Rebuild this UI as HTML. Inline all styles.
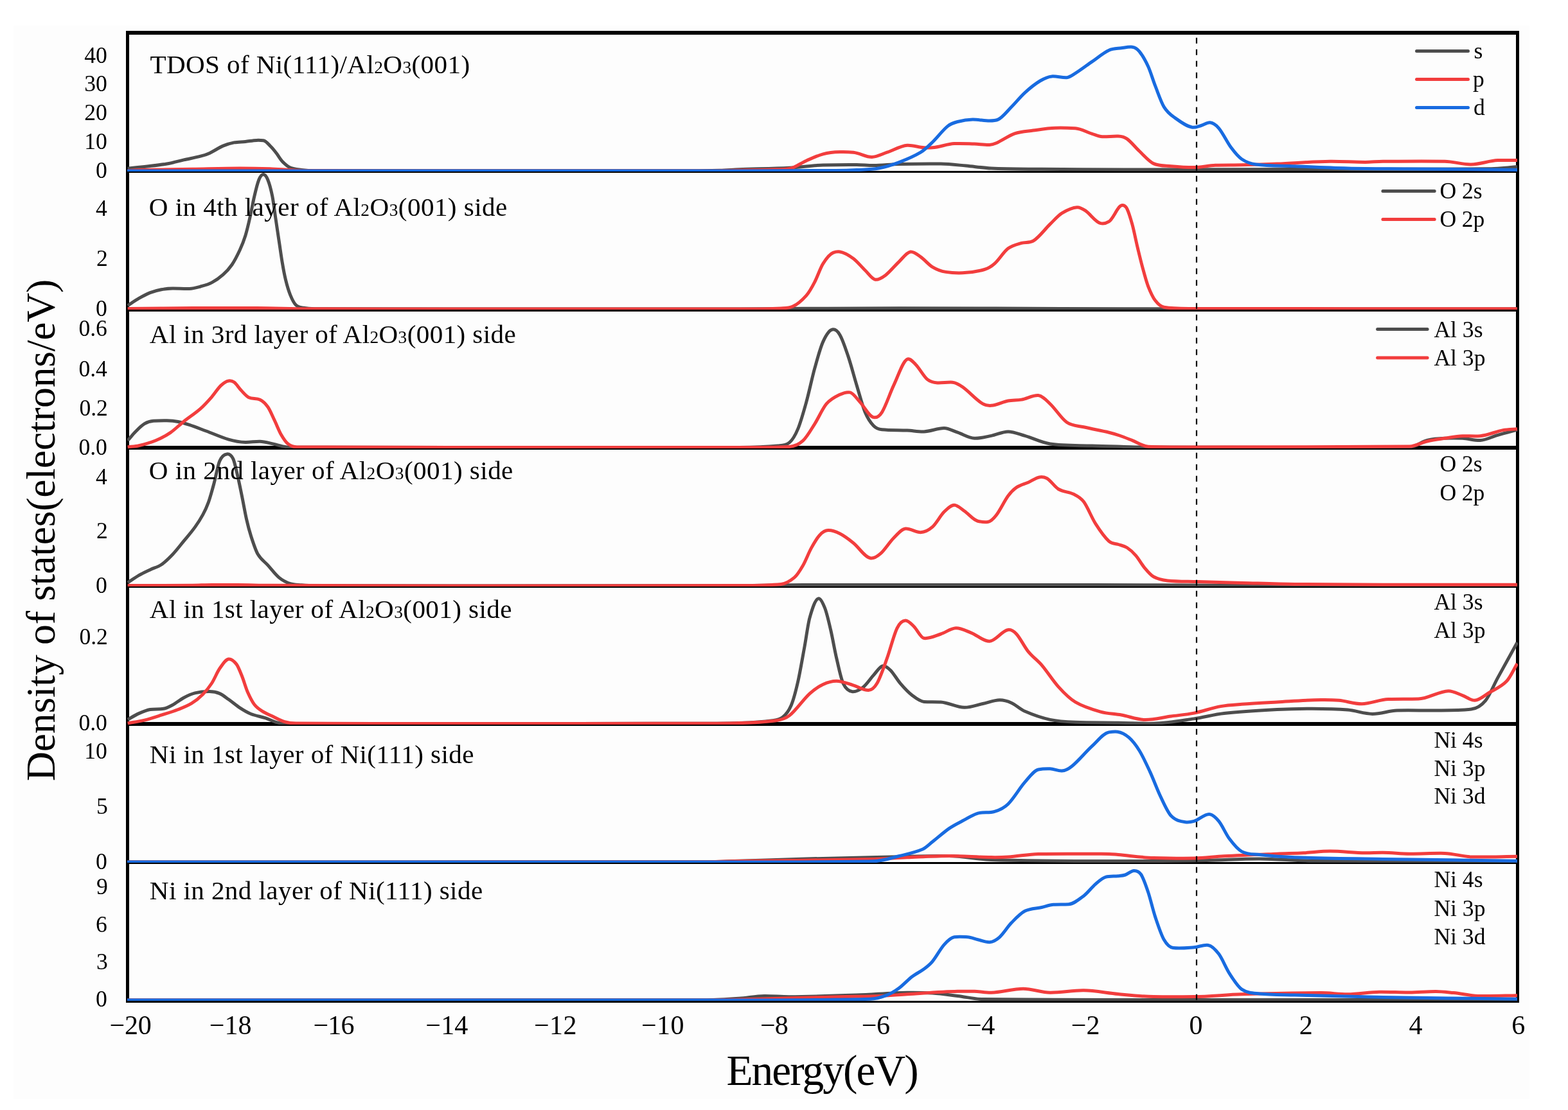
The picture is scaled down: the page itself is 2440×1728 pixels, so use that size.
<!DOCTYPE html>
<html><head><meta charset="utf-8"><title>DOS</title>
<style>
html,body{margin:0;padding:0;background:#ffffff;}
svg{display:block;}
text{font-family:"Liberation Serif","Times New Roman",serif;fill:#000;}
</style></head><body>
<svg width="2440" height="1728" viewBox="0 0 2440 1728">
<rect x="0" y="0" width="2440" height="1728" fill="#ffffff"/>
<rect x="21" y="40" width="2359" height="1671" fill="#fdfdfd"/>
<defs>
<clipPath id="c0"><rect x="198" y="52" width="2164" height="215"/></clipPath>
<clipPath id="c1"><rect x="198" y="267" width="2164" height="215"/></clipPath>
<clipPath id="c2"><rect x="198" y="483" width="2164" height="215"/></clipPath>
<clipPath id="c3"><rect x="198" y="698" width="2164" height="215"/></clipPath>
<clipPath id="c4"><rect x="198" y="913" width="2164" height="215"/></clipPath>
<clipPath id="c5"><rect x="198" y="1128" width="2164" height="215"/></clipPath>
<clipPath id="c6"><rect x="198" y="1343" width="2164" height="215"/></clipPath>
</defs>
<rect x="196" y="48" width="2168" height="6" fill="#000"/>
<rect x="196" y="48" width="5" height="1513" fill="#000"/>
<rect x="2359" y="48" width="5" height="1513" fill="#000"/>
<rect x="196" y="266" width="2168" height="3" fill="#000"/>
<rect x="196" y="482" width="2168" height="3" fill="#000"/>
<rect x="196" y="694" width="2168" height="6" fill="#000"/>
<rect x="196" y="913" width="2168" height="2" fill="#000"/>
<rect x="196" y="1124" width="2168" height="6" fill="#000"/>
<rect x="196" y="1342" width="2168" height="3" fill="#000"/>
<rect x="196" y="1558" width="2168" height="3" fill="#000"/>
<g clip-path="url(#c0)" fill="none" stroke-width="5.0" stroke-linejoin="round" stroke-linecap="butt">
<path stroke="#4d4d4d" d="M198.7,262.3C207.4,261.3 216.2,260.4 224.9,259.4C236.5,258.0 248.2,257.0 259.8,255.0C268.5,253.5 277.3,250.9 286.0,248.9C294.7,246.9 303.4,245.5 312.1,243.2C316.8,242.0 321.4,240.6 326.1,238.4C333.1,235.2 340.0,230.1 347.0,227.1C352.8,224.6 358.6,223.0 364.4,221.9C370.2,220.8 376.1,221.1 381.9,220.5C387.7,219.9 393.5,218.6 399.3,218.4C402.8,218.3 406.3,218.4 409.8,218.7C413.9,219.0 417.9,224.8 422.0,228.8C424.9,231.7 427.8,235.5 430.7,239.3C433.6,243.1 436.6,248.5 439.5,251.5C443.6,255.7 447.6,259.3 451.7,261.1C457.5,263.6 463.3,263.7 469.1,264.4C476.1,265.3 483.0,265.8 490.0,265.8C560.0,266.0 630.0,266.0 700.0,266.0C826.7,266.0 953.3,266.1 1080.0,266.0C1093.3,266.0 1106.7,265.6 1120.0,265.2C1130.0,264.9 1140.0,264.2 1150.0,263.8C1176.2,262.8 1202.3,262.6 1228.5,261.2C1245.9,260.3 1263.4,257.5 1280.8,257.0C1298.3,256.5 1315.7,256.4 1333.2,256.5C1341.9,256.5 1350.6,257.7 1359.3,257.6C1372.4,257.5 1385.5,255.8 1398.6,255.5C1420.4,255.0 1442.2,254.7 1464.0,255.0C1477.1,255.2 1490.2,256.9 1503.3,258.1C1516.4,259.3 1529.4,261.4 1542.5,262.0C1568.7,263.2 1594.8,263.0 1621.0,263.3C1663.7,263.7 1706.5,264.1 1749.2,264.1C1837.7,264.1 1926.2,263.6 2014.7,263.4C2115.5,263.2 2216.2,263.4 2317.0,262.8C2324.7,262.8 2332.3,262.1 2340.0,261.5C2347.0,261.0 2354.0,260.2 2361.0,259.5"/>
<path stroke="#f23d3d" d="M198.7,265.5C204.5,265.2 210.2,264.7 216.0,264.6C244.0,264.0 272.0,263.7 300.0,263.2C324.4,262.8 348.8,262.0 373.2,262.0C388.8,262.0 404.4,262.3 420.0,262.8C430.6,263.1 441.1,264.1 451.7,264.6C461.1,265.1 470.6,265.8 480.0,265.8C553.3,266.0 626.7,266.0 700.0,266.0C833.3,266.0 966.7,266.1 1100.0,266.0C1116.7,266.0 1133.3,265.3 1150.0,265.0C1166.7,264.7 1183.3,264.5 1200.0,264.0C1209.5,263.7 1219.0,264.0 1228.5,262.5C1237.2,261.1 1246.0,254.0 1254.7,250.2C1263.4,246.4 1272.1,242.1 1280.8,239.8C1289.5,237.5 1298.3,236.8 1307.0,236.6C1314.0,236.4 1320.9,236.6 1327.9,237.2C1337.5,238.0 1347.1,244.5 1356.7,244.5C1364.6,244.5 1372.4,239.8 1380.3,237.2C1390.8,233.7 1401.2,226.9 1411.7,226.2C1420.4,225.6 1429.1,229.4 1437.8,229.8C1442.2,230.0 1446.5,230.1 1450.9,229.8C1462.2,229.1 1473.6,224.1 1484.9,223.6C1495.4,223.1 1505.8,223.8 1516.3,224.1C1524.2,224.4 1532.0,225.6 1539.9,225.4C1543.4,225.3 1546.8,224.3 1550.3,222.8C1559.9,218.5 1569.5,211.2 1579.1,207.9C1588.7,204.6 1598.3,204.4 1607.9,203.1C1619.2,201.5 1630.6,199.5 1641.9,199.2C1652.4,198.9 1662.8,199.2 1673.3,199.7C1682.0,200.1 1690.8,205.7 1699.5,208.4C1704.7,210.0 1710.0,212.6 1715.2,212.8C1723.5,213.2 1731.7,211.6 1740.0,212.0C1744.6,212.2 1749.1,212.9 1753.7,216.1C1760.1,220.6 1766.6,229.3 1773.0,235.3C1780.3,242.1 1787.7,251.3 1795.0,254.6C1804.1,258.7 1813.3,257.8 1822.4,258.7C1834.3,259.8 1846.2,260.7 1858.1,260.6C1869.1,260.5 1880.1,257.7 1891.1,257.3C1904.8,256.8 1918.6,257.1 1932.3,256.8C1950.6,256.4 1969.0,255.8 1987.3,255.1C2014.8,254.0 2042.2,251.6 2069.7,251.3C2088.0,251.1 2106.3,252.4 2124.6,252.4C2133.8,252.4 2142.9,251.3 2152.1,251.3C2184.2,251.2 2216.2,250.8 2248.3,251.3C2262.0,251.5 2275.8,256.1 2289.5,256.0C2303.2,255.9 2317.0,250.2 2330.7,249.6C2340.8,249.1 2350.9,249.6 2361.0,249.6"/>
<line x1="1862" y1="58.8" x2="1862" y2="266" stroke="#000" stroke-width="2.2" stroke-dasharray="8.9 9.1"/>
<path stroke="#186be0" d="M198.0,266.0C365.3,266.0 532.7,266.0 700.0,266.0C850.0,266.0 1000.0,266.1 1150.0,266.0C1200.0,266.0 1250.0,265.9 1300.0,265.5C1311.1,265.4 1322.1,265.1 1333.2,264.5C1344.5,263.9 1355.9,264.0 1367.2,262.0C1377.7,260.1 1388.1,256.9 1398.6,252.9C1409.9,248.6 1421.3,244.0 1432.6,237.2C1438.7,233.5 1444.8,227.4 1450.9,221.5C1458.8,213.9 1466.6,203.0 1474.5,196.6C1479.7,192.3 1485.0,190.9 1490.2,189.5C1498.0,187.4 1505.9,186.2 1513.7,186.1C1522.4,186.0 1531.2,188.0 1539.9,188.0C1544.3,188.0 1548.6,188.0 1553.0,186.1C1560.0,183.1 1566.9,173.5 1573.9,166.5C1580.9,159.5 1587.8,150.6 1594.8,144.3C1602.7,137.1 1610.5,130.8 1618.4,126.0C1624.5,122.3 1630.6,119.3 1636.7,118.9C1644.5,118.4 1652.4,121.2 1660.2,120.7C1664.6,120.4 1668.9,117.0 1673.3,114.2C1682.0,108.7 1690.8,101.9 1699.5,95.9C1708.2,89.9 1717.0,82.3 1725.7,78.3C1732.1,75.3 1738.6,75.7 1745.0,74.8C1750.7,74.0 1756.3,72.7 1762.0,73.2C1765.7,73.5 1769.3,75.6 1773.0,80.1C1777.6,85.7 1782.1,93.6 1786.7,103.5C1790.4,111.5 1794.0,124.3 1797.7,133.7C1802.3,145.4 1806.8,159.1 1811.4,166.6C1816.9,175.6 1822.4,179.2 1827.9,183.1C1837.1,189.7 1846.2,196.8 1855.4,198.2C1860.0,198.9 1864.5,196.7 1869.1,195.5C1873.7,194.3 1878.3,190.5 1882.9,190.8C1887.5,191.1 1892.0,194.2 1896.6,199.6C1903.0,207.2 1909.4,221.2 1915.8,229.8C1921.3,237.2 1926.8,244.0 1932.3,247.7C1939.6,252.7 1947.0,254.9 1954.3,255.9C1974.4,258.6 1994.6,257.8 2014.7,258.7C2042.2,259.9 2069.7,261.3 2097.2,262.0C2128.1,262.8 2159.1,262.7 2190.0,263.0C2247.0,263.5 2304.0,264.0 2361.0,264.5"/>
</g>
<g clip-path="url(#c1)" fill="none" stroke-width="5.0" stroke-linejoin="round" stroke-linecap="butt">
<path stroke="#4d4d4d" d="M198.7,475.7C204.5,471.9 210.4,467.8 216.2,464.4C222.0,461.1 227.8,457.9 233.6,455.6C239.4,453.3 245.3,451.8 251.1,450.7C256.9,449.6 262.7,449.1 268.5,449.0C277.2,448.9 286.0,449.8 294.7,449.5C300.5,449.3 306.3,447.6 312.1,446.0C317.9,444.4 323.8,443.0 329.6,439.9C335.4,436.9 341.2,432.9 347.0,427.7C351.7,423.6 356.3,418.8 361.0,412.0C365.1,406.0 369.1,398.1 373.2,389.3C376.1,383.0 379.0,376.0 381.9,366.7C384.2,359.2 386.6,349.1 388.9,338.8C391.2,328.7 393.5,315.3 395.8,305.6C398.1,295.7 400.5,285.7 402.8,280.0C405.1,274.3 407.5,271.5 409.8,271.5C412.1,271.5 414.5,274.3 416.8,280.0C419.1,285.7 421.5,294.0 423.8,305.6C425.5,314.2 427.3,328.9 429.0,340.5C430.7,352.1 432.5,363.9 434.2,375.4C436.0,387.1 437.7,400.0 439.5,410.3C441.2,420.4 443.0,429.5 444.7,436.4C447.0,445.7 449.4,453.4 451.7,459.1C454.6,466.2 457.5,472.0 460.4,474.8C464.5,478.7 468.5,478.5 472.6,479.3C478.4,480.5 484.2,480.7 490.0,480.7C560.0,481.0 630.0,481.0 700.0,481.0C850.0,481.0 1000.0,481.1 1150.0,481.0C1183.3,481.0 1216.7,480.5 1250.0,480.3C1300.0,480.1 1350.0,479.8 1400.0,479.8C1450.0,479.8 1500.0,479.9 1550.0,480.0C1616.7,480.2 1683.3,480.6 1750.0,480.7C1953.7,481.0 2157.3,480.9 2361.0,481.0"/>
<path stroke="#f23d3d" d="M198.7,480.5C232.5,480.2 266.2,479.7 300.0,479.6C333.3,479.5 366.7,479.5 400.0,479.6C426.7,479.7 453.3,480.6 480.0,480.7C553.3,481.0 626.7,481.0 700.0,481.0C850.0,481.0 1000.0,481.2 1150.0,481.0C1171.8,481.0 1193.6,480.9 1215.4,479.9C1221.5,479.6 1227.6,479.9 1233.7,477.1C1240.7,473.9 1247.7,467.9 1254.7,460.1C1259.0,455.3 1263.4,447.4 1267.7,439.1C1272.1,430.8 1276.4,417.3 1280.8,410.4C1286.0,402.1 1291.3,395.5 1296.5,393.4C1300.0,392.0 1303.5,391.5 1307.0,392.0C1314.0,393.0 1320.9,397.4 1327.9,402.5C1334.0,407.0 1340.1,415.0 1346.2,420.8C1351.5,425.9 1356.7,434.5 1362.0,435.2C1367.2,435.9 1372.4,432.6 1377.6,428.7C1384.6,423.5 1391.6,414.3 1398.6,407.8C1404.7,402.1 1410.8,392.7 1416.9,392.0C1422.1,391.4 1427.4,396.3 1432.6,399.9C1438.7,404.1 1444.8,411.9 1450.9,415.6C1457.9,419.8 1464.8,422.3 1471.8,423.4C1480.5,424.8 1489.3,425.1 1498.0,424.8C1509.3,424.4 1520.7,422.8 1532.0,419.5C1537.2,418.0 1542.5,415.1 1547.7,410.4C1554.7,404.2 1561.7,392.1 1568.7,386.8C1575.7,381.5 1582.6,380.5 1589.6,378.4C1595.7,376.6 1601.8,378.4 1607.9,375.0C1616.6,370.1 1625.4,357.4 1634.1,348.9C1640.2,343.0 1646.3,335.7 1652.4,331.9C1660.3,327.0 1668.1,323.1 1676.0,322.7C1680.3,322.5 1684.7,325.0 1689.0,327.9C1696.9,333.3 1704.7,345.8 1712.6,347.6C1717.0,348.6 1721.3,347.6 1725.7,344.9C1730.9,341.7 1736.2,328.9 1741.4,322.7C1743.3,320.5 1745.1,319.3 1747.0,319.5C1749.2,319.7 1751.5,320.4 1753.7,324.9C1756.5,330.5 1759.2,339.6 1762.0,349.7C1764.7,359.7 1767.5,374.0 1770.2,385.4C1773.0,396.9 1775.7,408.3 1778.5,418.4C1781.2,428.4 1784.0,438.8 1786.7,445.8C1790.4,455.2 1794.0,463.0 1797.7,467.8C1802.3,473.8 1806.8,477.5 1811.4,478.3C1824.2,480.5 1837.1,480.5 1849.9,480.5C2020.3,480.7 2190.6,480.6 2361.0,480.7"/>
<line x1="1862" y1="273.8" x2="1862" y2="482" stroke="#000" stroke-width="2.2" stroke-dasharray="8.9 9.1"/>
</g>
<g clip-path="url(#c2)" fill="none" stroke-width="5.0" stroke-linejoin="round" stroke-linecap="butt">
<path stroke="#4d4d4d" d="M198.7,685.8C202.8,681.2 206.8,676.0 210.9,671.9C215.6,667.3 220.2,662.5 224.9,659.7C229.5,656.9 234.2,655.6 238.8,655.3C245.8,654.8 252.8,654.7 259.8,654.8C265.6,654.9 271.4,655.4 277.2,656.5C283.0,657.6 288.9,659.5 294.7,661.4C303.4,664.3 312.1,667.8 320.8,671.0C332.4,675.3 344.1,680.8 355.7,684.1C364.4,686.6 373.2,688.2 381.9,688.5C389.5,688.7 397.0,687.0 404.6,687.2C411.6,687.4 418.5,689.6 425.5,691.1C431.3,692.3 437.1,694.5 442.9,695.4C448.6,696.3 454.3,696.3 460.0,696.3C540.0,696.5 620.0,696.5 700.0,696.5C850.0,696.5 1000.0,696.9 1150.0,696.5C1170.1,696.5 1190.1,696.0 1210.2,694.1C1216.3,693.5 1222.4,694.0 1228.5,688.9C1232.9,685.3 1237.2,678.4 1241.6,667.9C1246.0,657.4 1250.3,641.9 1254.7,626.1C1259.0,610.5 1263.4,589.3 1267.7,573.7C1272.1,557.9 1276.4,541.5 1280.8,531.9C1285.6,521.3 1290.4,514.0 1295.2,513.0C1299.1,512.2 1303.1,514.7 1307.0,521.4C1311.4,528.8 1315.7,542.3 1320.1,555.4C1324.5,568.5 1328.8,585.4 1333.2,599.9C1337.5,614.2 1341.9,631.4 1346.2,641.8C1350.6,652.3 1354.9,658.2 1359.3,662.7C1363.7,667.2 1368.0,668.3 1372.4,668.7C1385.5,670.0 1398.6,669.4 1411.7,670.0C1420.4,670.4 1429.1,672.2 1437.8,671.9C1448.3,671.6 1458.7,666.5 1469.2,666.6C1476.2,666.7 1483.2,670.9 1490.2,673.2C1498.9,676.1 1507.6,681.9 1516.3,682.3C1525.0,682.7 1533.8,680.1 1542.5,678.4C1551.2,676.7 1560.0,671.9 1568.7,671.9C1577.4,671.9 1586.1,675.9 1594.8,678.4C1607.9,682.2 1621.0,689.1 1634.1,691.0C1655.9,694.1 1677.7,693.3 1699.5,694.1C1716.1,694.7 1732.6,695.0 1749.2,695.4C1759.9,695.6 1770.5,696.0 1781.2,696.0C1918.6,696.1 2055.9,697.6 2193.3,696.0C2202.5,695.9 2211.6,687.8 2220.8,685.5C2230.0,683.2 2239.1,682.6 2248.3,682.3C2257.5,682.0 2266.6,682.0 2275.8,682.3C2284.9,682.6 2294.1,686.0 2303.2,685.6C2312.4,685.2 2321.5,679.9 2330.7,677.3C2340.8,674.4 2350.9,671.8 2361.0,669.1"/>
<path stroke="#f23d3d" d="M198.7,696.0C204.5,695.2 210.4,695.1 216.2,693.7C224.9,691.7 233.6,689.4 242.3,685.8C249.9,682.7 257.4,678.7 265.0,673.6C272.0,668.9 278.9,661.7 285.9,656.2C294.6,649.2 303.4,643.8 312.1,636.1C317.9,631.0 323.8,624.4 329.6,617.8C334.2,612.5 338.9,604.8 343.5,600.4C347.6,596.5 351.6,593.5 355.7,593.0C358.6,592.6 361.5,593.0 364.4,595.1C367.9,597.6 371.4,603.7 374.9,607.3C379.0,611.5 383.0,616.7 387.1,618.7C392.9,621.6 398.8,619.3 404.6,622.2C408.7,624.2 412.7,627.7 416.8,633.5C420.3,638.4 423.7,647.2 427.2,654.4C430.7,661.7 434.2,671.0 437.7,677.1C441.2,683.2 444.7,688.4 448.2,691.1C452.8,694.7 457.5,696.0 462.1,696.0C541.4,696.5 620.7,696.5 700.0,696.5C850.0,696.6 1000.0,696.7 1150.0,696.5C1176.2,696.5 1202.3,696.5 1228.5,695.4C1235.5,695.1 1242.4,692.5 1249.4,686.2C1255.5,680.7 1261.6,669.7 1267.7,660.1C1273.8,650.5 1280.0,635.8 1286.1,628.7C1293.1,620.6 1300.0,617.7 1307.0,614.3C1312.2,611.8 1317.5,609.9 1322.7,610.9C1327.9,611.9 1333.2,620.6 1338.4,626.1C1345.4,633.5 1352.3,648.0 1359.3,649.6C1363.7,650.6 1368.0,648.7 1372.4,641.8C1378.5,632.1 1384.6,612.7 1390.7,599.9C1397.7,585.2 1404.7,562.7 1411.7,559.3C1416.0,557.2 1420.4,562.9 1424.7,567.2C1430.8,573.3 1437.0,585.5 1443.1,590.7C1448.3,595.1 1453.6,595.7 1458.8,596.0C1466.6,596.4 1474.5,594.6 1482.3,595.2C1487.5,595.6 1492.8,598.8 1498.0,602.5C1508.5,609.9 1518.9,622.5 1529.4,628.7C1533.8,631.3 1538.1,631.6 1542.5,631.3C1551.2,630.8 1560.0,625.7 1568.7,624.0C1575.7,622.6 1582.6,623.3 1589.6,622.1C1598.3,620.5 1607.1,615.0 1615.8,615.6C1621.9,616.1 1628.0,622.9 1634.1,628.7C1642.8,636.9 1651.5,651.5 1660.2,657.5C1668.9,663.5 1677.7,662.7 1686.4,664.8C1699.5,667.9 1712.6,670.1 1725.7,673.2C1731.1,674.5 1736.6,676.1 1742.0,678.0C1748.7,680.3 1755.3,683.0 1762.0,685.6C1770.2,688.8 1778.5,694.9 1786.7,695.2C1807.8,696.0 1828.9,696.0 1850.0,696.0C1964.4,696.0 2078.9,696.0 2193.3,695.0C2202.5,694.9 2211.6,689.1 2220.8,687.0C2230.0,684.9 2239.1,683.7 2248.3,682.3C2257.5,680.9 2266.6,679.0 2275.8,678.7C2284.9,678.4 2294.1,679.4 2303.2,678.7C2315.1,677.8 2327.0,671.9 2338.9,669.6C2346.3,668.2 2353.6,668.3 2361.0,667.7"/>
<line x1="1862" y1="489.8" x2="1862" y2="694" stroke="#000" stroke-width="2.2" stroke-dasharray="8.9 9.1"/>
</g>
<g clip-path="url(#c3)" fill="none" stroke-width="5.0" stroke-linejoin="round" stroke-linecap="butt">
<path stroke="#4d4d4d" d="M198.7,907.0C204.5,903.2 210.4,899.0 216.2,895.6C222.0,892.3 227.8,889.7 233.6,886.9C239.4,884.1 245.3,882.9 251.1,879.0C256.9,875.1 262.7,869.4 268.5,863.3C274.3,857.2 280.1,849.5 285.9,842.4C291.7,835.3 297.6,828.7 303.4,820.6C307.5,815.0 311.5,808.9 315.6,801.4C318.5,796.1 321.4,790.3 324.3,782.2C327.2,774.1 330.1,763.3 333.0,752.6C335.9,741.8 338.9,724.4 341.8,717.7C345.6,709.1 349.3,707.2 353.1,706.9C356.3,706.6 359.5,707.7 362.7,714.2C365.0,718.9 367.4,730.5 369.7,740.4C372.0,750.3 374.4,762.1 376.7,773.5C379.0,784.8 381.3,798.3 383.6,808.4C385.9,818.7 388.3,827.4 390.6,834.6C394.1,845.4 397.6,856.4 401.1,862.5C406.3,871.5 411.6,874.1 416.8,879.9C422.6,886.3 428.4,894.3 434.2,899.1C440.0,903.9 445.9,906.7 451.7,908.7C457.5,910.6 463.3,910.3 469.1,910.8C476.1,911.3 483.0,911.7 490.0,911.7C560.0,912.0 630.0,912.0 700.0,912.0C850.0,912.0 1000.0,912.0 1150.0,911.7C1183.3,911.6 1216.7,910.5 1250.0,910.5C1400.0,910.3 1550.0,910.4 1700.0,910.5C1766.7,910.5 1833.3,911.1 1900.0,911.2C2053.7,911.5 2207.3,911.5 2361.0,911.7"/>
<path stroke="#f23d3d" d="M198.7,911.5C232.5,911.4 266.2,911.5 300.0,911.2C310.0,911.1 320.0,910.5 330.0,910.5C343.3,910.4 356.7,910.4 370.0,910.5C386.7,910.6 403.3,911.2 420.0,911.3C513.3,911.7 606.7,912.0 700.0,912.0C850.0,912.0 1000.0,912.0 1150.0,911.6C1171.8,911.5 1193.6,911.6 1215.4,909.5C1222.4,908.8 1229.3,904.8 1236.3,898.9C1240.7,895.2 1245.0,888.1 1249.4,880.5C1253.8,872.9 1258.1,861.0 1262.5,853.1C1266.9,845.2 1271.2,837.5 1275.6,832.9C1280.0,828.3 1284.3,825.7 1288.7,825.6C1294.8,825.4 1300.9,827.8 1307.0,830.8C1314.0,834.3 1320.9,839.6 1327.9,845.2C1336.6,852.2 1345.4,867.0 1354.1,868.8C1359.3,869.9 1364.6,866.7 1369.8,862.2C1376.8,856.2 1383.7,844.4 1390.7,837.4C1396.8,831.3 1402.9,823.6 1409.0,823.0C1416.9,822.2 1424.7,828.9 1432.6,828.7C1438.7,828.5 1444.8,825.7 1450.9,820.4C1457.0,815.1 1463.1,802.9 1469.2,796.8C1474.4,791.6 1479.7,786.4 1484.9,786.3C1490.1,786.2 1495.4,791.9 1500.6,795.5C1507.6,800.2 1514.6,809.5 1521.6,811.2C1526.8,812.5 1532.1,813.3 1537.3,812.5C1541.6,811.8 1546.0,807.6 1550.3,802.0C1556.4,794.1 1562.6,780.4 1568.7,772.0C1573.0,766.1 1577.4,761.8 1581.7,758.9C1587.8,754.8 1594.0,753.7 1600.1,751.0C1606.2,748.3 1612.3,743.4 1618.4,742.7C1621.9,742.3 1625.3,742.7 1628.8,744.5C1634.9,747.7 1641.1,757.9 1647.2,761.5C1655.0,766.1 1662.9,765.4 1670.7,769.3C1675.9,771.9 1681.2,774.1 1686.4,781.1C1692.5,789.3 1698.6,805.6 1704.7,815.1C1711.7,826.1 1718.7,836.2 1725.7,842.6C1730.5,847.0 1735.2,845.8 1740.0,847.5C1744.6,849.1 1749.1,849.6 1753.7,852.5C1758.3,855.4 1762.9,859.5 1767.5,864.8C1772.1,870.0 1776.6,878.6 1781.2,884.1C1785.8,889.6 1790.4,895.2 1795.0,897.8C1802.3,901.8 1809.6,903.1 1816.9,903.9C1832.5,905.5 1848.0,905.0 1863.6,905.5C1886.5,906.2 1909.4,906.8 1932.3,907.4C1959.8,908.1 1987.2,909.1 2014.7,909.4C2060.5,910.0 2106.3,910.1 2152.1,910.2C2221.7,910.3 2291.4,910.2 2361.0,910.2"/>
<line x1="1862" y1="704.8" x2="1862" y2="913" stroke="#000" stroke-width="2.2" stroke-dasharray="8.9 9.1"/>
</g>
<g clip-path="url(#c4)" fill="none" stroke-width="5.0" stroke-linejoin="round" stroke-linecap="butt">
<path stroke="#4d4d4d" d="M198.7,1120.2C204.5,1117.0 210.4,1113.2 216.2,1110.6C222.0,1108.0 227.8,1105.5 233.6,1104.5C240.6,1103.3 247.5,1104.5 254.5,1103.3C259.2,1102.5 263.8,1100.0 268.5,1097.5C274.3,1094.3 280.1,1089.3 285.9,1086.2C291.7,1083.1 297.6,1080.3 303.4,1078.9C311.0,1077.1 318.5,1076.5 326.1,1076.6C331.3,1076.6 336.6,1077.4 341.8,1079.6C346.4,1081.5 351.1,1085.5 355.7,1088.8C361.5,1092.9 367.4,1098.1 373.2,1101.9C379.0,1105.7 384.8,1109.2 390.6,1111.5C398.2,1114.5 405.7,1115.4 413.3,1117.9C419.1,1119.8 424.9,1123.0 430.7,1124.6C434.8,1125.8 438.9,1126.2 443.0,1126.3C448.7,1126.5 454.3,1126.5 460.0,1126.5C540.0,1126.5 620.0,1126.5 700.0,1126.5C833.3,1126.5 966.7,1126.5 1100.0,1126.3C1116.7,1126.3 1133.3,1126.3 1150.0,1125.6C1167.4,1124.9 1184.9,1124.0 1202.3,1121.7C1207.5,1121.0 1212.8,1120.8 1218.0,1116.5C1222.4,1112.9 1226.7,1108.4 1231.1,1098.2C1234.6,1090.0 1238.1,1076.8 1241.6,1061.5C1245.1,1046.3 1248.5,1025.4 1252.0,1006.6C1254.6,992.3 1257.3,971.5 1259.9,962.1C1264.3,946.6 1268.6,933.5 1273.0,932.0C1276.5,930.8 1280.0,937.8 1283.5,946.4C1286.5,953.9 1289.6,967.4 1292.6,980.4C1295.7,993.6 1298.7,1011.8 1301.8,1024.9C1305.3,1039.7 1308.7,1056.9 1312.2,1064.1C1317.0,1074.1 1321.8,1076.3 1326.6,1076.7C1332.3,1077.2 1337.9,1073.8 1343.6,1069.4C1348.8,1065.3 1354.1,1056.8 1359.3,1051.1C1364.1,1045.9 1368.9,1037.4 1373.7,1036.7C1377.6,1036.1 1381.6,1039.3 1385.5,1043.2C1390.7,1048.4 1396.0,1058.1 1401.2,1064.1C1407.3,1071.2 1413.4,1077.8 1419.5,1082.5C1425.6,1087.2 1431.7,1092.1 1437.8,1092.4C1446.5,1092.9 1455.3,1092.4 1464.0,1092.9C1476.2,1093.6 1488.4,1101.1 1500.6,1101.3C1510.2,1101.5 1519.8,1097.5 1529.4,1095.5C1538.1,1093.7 1546.9,1089.9 1555.6,1089.8C1561.7,1089.7 1567.8,1091.5 1573.9,1094.2C1580.9,1097.3 1587.8,1104.3 1594.8,1107.3C1607.9,1113.0 1621.0,1117.6 1634.1,1120.4C1647.2,1123.2 1660.2,1123.8 1673.3,1124.3C1695.5,1125.2 1717.8,1124.8 1740.0,1125.2C1758.3,1125.5 1776.7,1126.8 1795.0,1126.3C1816.0,1125.7 1837.1,1121.9 1858.1,1118.9C1873.7,1116.7 1889.2,1112.3 1904.8,1110.6C1932.3,1107.6 1959.8,1106.1 1987.3,1104.6C2005.6,1103.6 2023.9,1103.2 2042.2,1103.2C2060.5,1103.2 2078.9,1103.5 2097.2,1105.1C2110.0,1106.2 2122.8,1111.3 2135.6,1111.4C2148.4,1111.5 2161.3,1106.4 2174.1,1106.0C2194.2,1105.5 2214.4,1106.2 2234.5,1106.0C2252.8,1105.8 2271.2,1106.0 2289.5,1104.0C2296.8,1103.2 2304.2,1099.5 2311.5,1090.8C2317.9,1083.2 2324.3,1066.8 2330.7,1055.1C2340.8,1036.6 2350.9,1018.5 2361.0,1000.2"/>
<path stroke="#f23d3d" d="M198.7,1126.0C207.4,1124.4 216.2,1123.2 224.9,1121.1C233.6,1119.0 242.4,1116.0 251.1,1113.2C259.8,1110.4 268.5,1107.9 277.2,1104.5C284.2,1101.8 291.2,1099.2 298.2,1094.9C304.0,1091.4 309.8,1086.8 315.6,1081.0C320.3,1076.3 324.9,1070.7 329.6,1063.5C333.7,1057.3 337.7,1046.6 341.8,1040.8C346.4,1034.1 351.1,1026.6 355.7,1026.0C359.8,1025.5 363.8,1028.7 367.9,1033.9C370.8,1037.7 373.8,1045.7 376.7,1053.0C379.6,1060.2 382.5,1070.9 385.4,1077.5C388.9,1085.4 392.3,1092.2 395.8,1096.7C399.9,1102.0 404.0,1104.5 408.1,1107.1C413.9,1110.8 419.7,1113.0 425.5,1115.8C431.3,1118.6 437.2,1122.0 443.0,1123.7C448.8,1125.4 454.6,1126.0 460.4,1126.0C540.3,1126.5 620.1,1126.5 700.0,1126.5C833.3,1126.5 966.7,1126.5 1100.0,1126.3C1116.7,1126.3 1133.3,1126.3 1150.0,1125.6C1169.2,1124.8 1188.4,1124.6 1207.6,1121.7C1214.6,1120.7 1221.5,1119.5 1228.5,1113.9C1239.0,1105.5 1249.4,1089.5 1259.9,1079.8C1266.9,1073.4 1273.8,1068.8 1280.8,1065.5C1287.8,1062.2 1294.8,1060.1 1301.8,1060.2C1310.5,1060.3 1319.2,1064.3 1327.9,1066.8C1335.8,1069.1 1343.6,1074.9 1351.5,1074.6C1355.9,1074.4 1360.2,1071.6 1364.6,1064.1C1369.8,1055.1 1375.1,1039.3 1380.3,1024.9C1385.5,1010.5 1390.8,988.5 1396.0,977.8C1400.3,968.9 1404.7,966.2 1409.0,966.0C1413.4,965.8 1417.7,971.0 1422.1,975.2C1427.3,980.2 1432.6,992.8 1437.8,993.5C1446.5,994.7 1455.3,989.8 1464.0,987.0C1471.8,984.5 1479.7,978.0 1487.5,977.8C1495.4,977.6 1503.2,982.0 1511.1,985.1C1520.7,988.8 1530.3,998.6 1539.9,998.2C1549.5,997.8 1559.1,981.7 1568.7,980.4C1573.0,979.8 1577.4,982.3 1581.7,987.0C1587.8,993.6 1594.0,1006.8 1600.1,1014.4C1607.1,1023.0 1614.0,1027.3 1621.0,1035.4C1629.7,1045.6 1638.5,1059.8 1647.2,1069.4C1655.9,1079.0 1664.6,1087.8 1673.3,1092.9C1686.4,1100.7 1699.5,1104.4 1712.6,1108.1C1723.4,1111.1 1734.2,1111.0 1745.0,1113.0C1757.1,1115.2 1769.1,1120.3 1781.2,1120.5C1794.9,1120.7 1808.7,1116.9 1822.4,1115.0C1834.3,1113.4 1846.2,1112.5 1858.1,1110.1C1871.9,1107.3 1885.6,1102.2 1899.4,1099.6C1910.4,1097.6 1921.3,1097.1 1932.3,1096.3C1950.6,1094.9 1969.0,1094.0 1987.3,1093.0C2010.2,1091.7 2033.1,1089.8 2056.0,1089.5C2065.1,1089.4 2074.3,1089.5 2083.4,1090.3C2095.3,1091.3 2107.3,1095.9 2119.2,1095.8C2132.9,1095.6 2146.7,1089.0 2160.4,1088.6C2176.0,1088.1 2191.5,1088.6 2207.1,1088.1C2222.7,1087.6 2238.2,1076.3 2253.8,1075.7C2261.1,1075.4 2268.5,1080.0 2275.8,1082.6C2282.2,1084.9 2288.6,1090.6 2295.0,1090.3C2302.3,1089.9 2309.7,1082.9 2317.0,1078.5C2326.1,1073.0 2335.3,1070.0 2344.4,1060.6C2349.9,1054.9 2355.5,1042.3 2361.0,1033.1"/>
<line x1="1862" y1="919.8" x2="1862" y2="1124" stroke="#000" stroke-width="2.2" stroke-dasharray="8.9 9.1"/>
</g>
<g clip-path="url(#c5)" fill="none" stroke-width="5.0" stroke-linejoin="round" stroke-linecap="butt">
<path stroke="#4d4d4d" d="M198.0,1342.0C498.7,1341.9 799.3,1342.0 1100.0,1341.7C1116.7,1341.7 1133.3,1340.8 1150.0,1340.3C1184.9,1339.2 1219.8,1337.9 1254.7,1337.0C1298.3,1335.8 1341.9,1334.9 1385.5,1334.0C1416.0,1333.4 1446.6,1332.1 1477.1,1332.5C1498.9,1332.8 1520.7,1337.9 1542.5,1338.5C1611.4,1340.6 1680.3,1340.5 1749.2,1340.6C1791.9,1340.7 1834.7,1340.1 1877.4,1339.4C1904.9,1338.9 1932.3,1336.9 1959.8,1337.0C1987.3,1337.1 2014.7,1340.0 2042.2,1340.2C2148.5,1341.0 2254.7,1340.7 2361.0,1341.0"/>
<path stroke="#f23d3d" d="M198.0,1342.0C498.7,1341.9 799.3,1342.0 1100.0,1341.7C1116.7,1341.7 1133.3,1340.8 1150.0,1340.5C1219.8,1339.4 1289.5,1339.0 1359.3,1337.5C1376.8,1337.1 1394.2,1335.5 1411.7,1334.8C1433.5,1333.9 1455.3,1332.5 1477.1,1332.5C1498.9,1332.5 1520.7,1334.4 1542.5,1334.6C1551.2,1334.7 1560.0,1334.6 1568.7,1334.1C1584.4,1333.2 1600.1,1329.6 1615.8,1329.4C1652.4,1328.9 1689.1,1329.2 1725.7,1329.4C1730.5,1329.4 1735.2,1330.2 1740.0,1330.6C1758.3,1332.2 1776.7,1335.0 1795.0,1335.5C1816.0,1336.1 1837.1,1336.4 1858.1,1336.1C1873.7,1335.9 1889.2,1333.6 1904.8,1332.8C1932.3,1331.3 1959.8,1330.3 1987.3,1329.2C2001.0,1328.6 2014.8,1328.5 2028.5,1327.8C2042.2,1327.1 2056.0,1325.1 2069.7,1325.1C2088.0,1325.1 2106.3,1327.6 2124.6,1327.8C2133.8,1327.9 2142.9,1327.2 2152.1,1327.3C2165.8,1327.4 2179.6,1329.1 2193.3,1329.2C2211.6,1329.3 2230.0,1328.0 2248.3,1328.4C2262.0,1328.7 2275.8,1333.6 2289.5,1333.9C2313.3,1334.4 2337.2,1333.5 2361.0,1333.3"/>
<line x1="1862" y1="1134.8" x2="1862" y2="1342" stroke="#000" stroke-width="2.2" stroke-dasharray="8.9 9.1"/>
<path stroke="#186be0" d="M198.0,1342.0C515.3,1342.0 832.7,1342.2 1150.0,1342.0C1219.8,1342.0 1289.5,1342.0 1359.3,1340.8C1372.4,1340.6 1385.5,1336.0 1398.6,1332.8C1410.8,1329.8 1423.0,1327.5 1435.2,1322.3C1440.4,1320.1 1445.7,1314.6 1450.9,1310.5C1459.6,1303.7 1468.4,1295.7 1477.1,1289.6C1484.1,1284.8 1491.0,1281.5 1498.0,1277.8C1505.9,1273.6 1513.7,1268.4 1521.6,1266.1C1530.3,1263.6 1539.0,1266.1 1547.7,1263.4C1554.7,1261.3 1561.7,1258.5 1568.7,1251.7C1577.4,1243.3 1586.1,1227.6 1594.8,1217.7C1601.8,1209.7 1608.8,1199.5 1615.8,1198.0C1621.9,1196.7 1628.0,1196.5 1634.1,1196.7C1640.2,1196.9 1646.3,1200.4 1652.4,1200.1C1657.6,1199.8 1662.9,1197.1 1668.1,1192.8C1678.6,1184.2 1689.0,1171.0 1699.5,1161.4C1708.2,1153.4 1717.0,1141.3 1725.7,1139.9C1730.1,1139.2 1734.6,1138.6 1739.0,1139.2C1744.8,1140.0 1750.7,1142.9 1756.5,1147.9C1762.0,1152.6 1767.5,1159.6 1773.0,1168.5C1778.5,1177.4 1784.0,1189.5 1789.5,1201.4C1795.0,1213.3 1800.4,1228.5 1805.9,1239.9C1811.4,1251.4 1816.9,1264.4 1822.4,1270.1C1829.7,1277.7 1837.1,1278.8 1844.4,1279.7C1849.0,1280.2 1853.5,1279.7 1858.1,1278.4C1865.9,1276.2 1873.7,1267.4 1881.5,1267.4C1886.5,1267.4 1891.6,1272.3 1896.6,1278.4C1902.1,1285.1 1907.6,1298.5 1913.1,1305.8C1919.5,1314.3 1925.9,1322.2 1932.3,1325.6C1941.5,1330.5 1950.6,1329.6 1959.8,1330.6C1978.1,1332.6 1996.4,1334.1 2014.7,1334.7C2060.5,1336.3 2106.3,1336.7 2152.1,1337.4C2221.7,1338.5 2291.4,1339.3 2361.0,1340.2"/>
</g>
<g clip-path="url(#c6)" fill="none" stroke-width="5.0" stroke-linejoin="round" stroke-linecap="butt">
<path stroke="#4d4d4d" d="M198.0,1557.0C498.7,1556.9 799.3,1557.0 1100.0,1556.7C1116.7,1556.7 1133.3,1555.5 1150.0,1554.3C1163.1,1553.4 1176.1,1550.6 1189.2,1550.4C1202.3,1550.2 1215.4,1551.8 1228.5,1551.7C1263.4,1551.5 1298.3,1550.3 1333.2,1549.1C1359.4,1548.2 1385.5,1545.5 1411.7,1545.2C1424.8,1545.0 1437.8,1545.2 1450.9,1546.0C1464.0,1546.8 1477.1,1548.8 1490.2,1550.4C1503.3,1552.0 1516.3,1555.5 1529.4,1555.6C1602.7,1556.4 1675.9,1556.3 1749.2,1556.4C1953.1,1556.6 2157.1,1556.5 2361.0,1556.6"/>
<path stroke="#f23d3d" d="M198.0,1557.0C498.7,1557.0 799.3,1557.2 1100.0,1557.0C1116.7,1557.0 1133.3,1556.4 1150.0,1556.0C1176.2,1555.3 1202.3,1554.5 1228.5,1553.8C1254.7,1553.1 1280.8,1552.3 1307.0,1551.7C1328.8,1551.2 1350.6,1551.2 1372.4,1550.4C1385.5,1549.9 1398.6,1548.6 1411.7,1547.8C1437.9,1546.2 1464.0,1543.9 1490.2,1543.3C1498.9,1543.1 1507.6,1543.1 1516.3,1543.3C1525.0,1543.5 1533.8,1545.4 1542.5,1545.2C1559.1,1544.8 1575.6,1539.2 1592.2,1539.2C1606.2,1539.2 1620.1,1545.0 1634.1,1545.2C1651.5,1545.4 1669.0,1541.6 1686.4,1541.8C1704.3,1542.0 1722.1,1545.9 1740.0,1547.5C1758.3,1549.2 1776.7,1551.3 1795.0,1551.6C1816.0,1552.0 1837.1,1551.9 1858.1,1551.6C1882.8,1551.3 1907.6,1548.5 1932.3,1547.8C1973.5,1546.5 2014.8,1545.6 2056.0,1545.6C2069.7,1545.6 2083.5,1547.9 2097.2,1547.8C2113.7,1547.7 2130.1,1544.4 2146.6,1544.2C2162.2,1544.0 2177.7,1545.1 2193.3,1545.0C2207.0,1544.9 2220.8,1543.3 2234.5,1543.4C2243.7,1543.4 2252.8,1544.7 2262.0,1545.6C2275.7,1547.0 2289.5,1550.2 2303.2,1550.5C2322.5,1550.9 2341.7,1550.0 2361.0,1549.7"/>
<line x1="1862" y1="1349.8" x2="1862" y2="1558" stroke="#000" stroke-width="2.2" stroke-dasharray="8.9 9.1"/>
<path stroke="#186be0" d="M198.0,1557.0C515.3,1557.0 832.7,1557.2 1150.0,1557.0C1218.0,1556.9 1286.1,1557.0 1354.1,1555.3C1362.8,1555.1 1371.6,1552.4 1380.3,1549.1C1386.4,1546.8 1392.5,1543.1 1398.6,1538.6C1405.6,1533.5 1412.5,1525.6 1419.5,1520.3C1425.6,1515.6 1431.7,1513.1 1437.8,1508.5C1442.2,1505.2 1446.5,1502.1 1450.9,1496.8C1457.0,1489.4 1463.1,1477.4 1469.2,1470.6C1474.4,1464.8 1479.7,1459.6 1484.9,1458.8C1491.9,1457.7 1498.9,1458.4 1505.9,1458.8C1511.1,1459.1 1516.4,1461.5 1521.6,1462.7C1527.7,1464.1 1533.8,1467.0 1539.9,1466.7C1545.1,1466.4 1550.4,1463.4 1555.6,1458.8C1561.7,1453.4 1567.8,1442.9 1573.9,1436.6C1580.9,1429.4 1587.8,1421.9 1594.8,1418.3C1603.5,1413.8 1612.3,1414.5 1621.0,1412.5C1627.1,1411.1 1633.2,1408.7 1639.3,1408.3C1647.2,1407.8 1655.0,1408.3 1662.9,1407.8C1670.7,1407.3 1678.6,1400.6 1686.4,1394.7C1692.5,1390.1 1698.6,1381.7 1704.7,1376.4C1709.9,1371.9 1715.2,1366.8 1720.4,1365.4C1726.9,1363.7 1733.5,1364.4 1740.0,1363.7C1743.7,1363.3 1747.3,1363.2 1751.0,1362.0C1755.6,1360.5 1760.1,1355.4 1764.7,1355.4C1768.4,1355.4 1772.0,1355.9 1775.7,1361.5C1779.4,1367.1 1783.0,1378.0 1786.7,1389.0C1790.4,1400.0 1794.0,1416.4 1797.7,1427.4C1802.3,1441.1 1806.8,1455.1 1811.4,1463.1C1816.0,1471.1 1820.6,1474.9 1825.2,1475.5C1836.2,1476.9 1847.1,1475.5 1858.1,1474.7C1865.4,1474.2 1872.8,1470.4 1880.1,1471.4C1885.6,1472.1 1891.1,1477.8 1896.6,1485.1C1902.1,1492.4 1907.6,1506.8 1913.1,1515.3C1919.5,1525.2 1925.9,1535.8 1932.3,1540.1C1941.5,1546.3 1950.6,1546.0 1959.8,1547.0C1978.1,1548.9 1996.4,1548.4 2014.7,1548.9C2060.5,1550.2 2106.3,1551.6 2152.1,1552.4C2221.7,1553.7 2291.4,1554.3 2361.0,1555.2"/>
</g>
<line x1="2204.5" y1="79.4" x2="2284.5" y2="79.4" stroke="#4d4d4d" stroke-width="5" stroke-linecap="round"/>
<line x1="2204.5" y1="123.5" x2="2284.5" y2="123.5" stroke="#f23d3d" stroke-width="5" stroke-linecap="round"/>
<line x1="2204.5" y1="167.5" x2="2284.5" y2="167.5" stroke="#186be0" stroke-width="5" stroke-linecap="round"/>
<line x1="2151.9" y1="297.4" x2="2232.2" y2="297.4" stroke="#4d4d4d" stroke-width="5" stroke-linecap="round"/>
<line x1="2151.9" y1="341.4" x2="2232.2" y2="341.4" stroke="#f23d3d" stroke-width="5" stroke-linecap="round"/>
<line x1="2143.6" y1="512.5" x2="2221.1" y2="512.5" stroke="#4d4d4d" stroke-width="5" stroke-linecap="round"/>
<line x1="2143.6" y1="557.0" x2="2221.1" y2="557.0" stroke="#f23d3d" stroke-width="5" stroke-linecap="round"/>
<text x="166.90" y="97.70" font-size="35.60" text-anchor="end">40</text>
<text x="166.90" y="142.20" font-size="35.60" text-anchor="end">30</text>
<text x="166.90" y="187.00" font-size="35.60" text-anchor="end">20</text>
<text x="166.90" y="231.75" font-size="35.60" text-anchor="end">10</text>
<text x="166.90" y="276.70" font-size="35.60" text-anchor="end">0</text>
<text x="166.90" y="335.70" font-size="35.60" text-anchor="end">4</text>
<text x="167.90" y="413.70" font-size="35.60" text-anchor="end">2</text>
<text x="166.90" y="491.70" font-size="35.60" text-anchor="end">0</text>
<text x="166.90" y="523.20" font-size="35.60" text-anchor="end">0.6</text>
<text x="166.90" y="585.50" font-size="35.60" text-anchor="end">0.4</text>
<text x="167.90" y="646.90" font-size="35.60" text-anchor="end">0.2</text>
<text x="166.90" y="708.20" font-size="35.60" text-anchor="end">0.0</text>
<text x="166.90" y="754.00" font-size="35.60" text-anchor="end">4</text>
<text x="167.90" y="838.30" font-size="35.60" text-anchor="end">2</text>
<text x="166.90" y="923.20" font-size="35.60" text-anchor="end">0</text>
<text x="167.90" y="1002.90" font-size="35.60" text-anchor="end">0.2</text>
<text x="166.90" y="1137.20" font-size="35.60" text-anchor="end">0.0</text>
<text x="166.90" y="1180.70" font-size="35.60" text-anchor="end">10</text>
<text x="167.90" y="1267.00" font-size="35.60" text-anchor="end">5</text>
<text x="166.90" y="1353.00" font-size="35.60" text-anchor="end">0</text>
<text x="167.90" y="1391.60" font-size="35.60" text-anchor="end">9</text>
<text x="166.90" y="1450.50" font-size="35.60" text-anchor="end">6</text>
<text x="167.90" y="1509.40" font-size="35.60" text-anchor="end">3</text>
<text x="166.90" y="1567.20" font-size="35.60" text-anchor="end">0</text>
<text x="170.60" y="1610.00" font-size="42.00" text-anchor="start" textLength="65.09" lengthAdjust="spacing">−20</text>
<text x="325.70" y="1610.00" font-size="42.00" text-anchor="start" textLength="65.69" lengthAdjust="spacing">−18</text>
<text x="487.40" y="1610.00" font-size="42.00" text-anchor="start" textLength="64.19" lengthAdjust="spacing">−16</text>
<text x="662.30" y="1610.00" font-size="42.00" text-anchor="start" textLength="65.99" lengthAdjust="spacing">−14</text>
<text x="830.90" y="1610.00" font-size="42.00" text-anchor="start" textLength="66.59" lengthAdjust="spacing">−12</text>
<text x="997.90" y="1610.00" font-size="42.00" text-anchor="start" textLength="66.59" lengthAdjust="spacing">−10</text>
<text x="1182.90" y="1610.00" font-size="42.00" text-anchor="start" textLength="43.89" lengthAdjust="spacing">−8</text>
<text x="1340.80" y="1610.00" font-size="42.00" text-anchor="start" textLength="44.29" lengthAdjust="spacing">−6</text>
<text x="1503.90" y="1610.00" font-size="42.00" text-anchor="start" textLength="44.29" lengthAdjust="spacing">−4</text>
<text x="1666.70" y="1610.00" font-size="42.00" text-anchor="start" textLength="44.69" lengthAdjust="spacing">−2</text>
<text x="1850.60" y="1610.00" font-size="42.00" text-anchor="start">0</text>
<text x="2021.80" y="1610.00" font-size="42.00" text-anchor="start">2</text>
<text x="2192.60" y="1610.00" font-size="42.00" text-anchor="start">4</text>
<text x="2352.30" y="1610.00" font-size="42.00" text-anchor="start">6</text>
<text x="233.40" y="114.00" font-size="41.10" text-anchor="start" textLength="497.68" lengthAdjust="spacing">TDOS of Ni(111)/Al<tspan font-size="27.4">2</tspan>O<tspan font-size="27.4">3</tspan>(001)</text>
<text x="231.80" y="336.10" font-size="41.10" text-anchor="start" textLength="557.44" lengthAdjust="spacing">O in 4th layer of Al<tspan font-size="27.4">2</tspan>O<tspan font-size="27.4">3</tspan>(001) side</text>
<text x="232.80" y="534.10" font-size="41.10" text-anchor="start" textLength="569.90" lengthAdjust="spacing">Al in 3rd layer of Al<tspan font-size="27.4">2</tspan>O<tspan font-size="27.4">3</tspan>(001) side</text>
<text x="231.80" y="745.90" font-size="41.10" text-anchor="start" textLength="566.57" lengthAdjust="spacing">O in 2nd layer of Al<tspan font-size="27.4">2</tspan>O<tspan font-size="27.4">3</tspan>(001) side</text>
<text x="232.80" y="962.00" font-size="41.10" text-anchor="start" textLength="563.69" lengthAdjust="spacing">Al in 1st layer of Al<tspan font-size="27.4">2</tspan>O<tspan font-size="27.4">3</tspan>(001) side</text>
<text x="232.80" y="1188.30" font-size="41.10" text-anchor="start" textLength="504.67" lengthAdjust="spacing">Ni in 1st layer of Ni(111) side</text>
<text x="232.80" y="1400.30" font-size="41.10" text-anchor="start" textLength="518.35" lengthAdjust="spacing">Ni in 2nd layer of Ni(111) side</text>
<text x="2293.50" y="91.10" font-size="35.60" text-anchor="start">s</text>
<text x="2292.00" y="135.20" font-size="35.60" text-anchor="start">p</text>
<text x="2293.00" y="179.00" font-size="35.60" text-anchor="start">d</text>
<text x="2240.40" y="308.70" font-size="35.60" text-anchor="start" textLength="66.23" lengthAdjust="spacing">O 2s</text>
<text x="2240.40" y="352.50" font-size="35.60" text-anchor="start" textLength="69.91" lengthAdjust="spacing">O 2p</text>
<text x="2231.40" y="524.80" font-size="35.60" text-anchor="start">Al 3s</text>
<text x="2231.40" y="568.80" font-size="35.60" text-anchor="start">Al 3p</text>
<text x="2240.40" y="734.30" font-size="35.60" text-anchor="start" textLength="66.23" lengthAdjust="spacing">O 2s</text>
<text x="2240.40" y="779.10" font-size="35.60" text-anchor="start" textLength="69.91" lengthAdjust="spacing">O 2p</text>
<text x="2231.40" y="948.50" font-size="35.60" text-anchor="start">Al 3s</text>
<text x="2231.40" y="993.30" font-size="35.60" text-anchor="start">Al 3p</text>
<text x="2231.40" y="1164.30" font-size="35.60" text-anchor="start">Ni 4s</text>
<text x="2231.40" y="1208.30" font-size="35.60" text-anchor="start">Ni 3p</text>
<text x="2231.40" y="1251.40" font-size="35.60" text-anchor="start">Ni 3d</text>
<text x="2231.40" y="1381.30" font-size="35.60" text-anchor="start">Ni 4s</text>
<text x="2231.40" y="1426.00" font-size="35.60" text-anchor="start">Ni 3p</text>
<text x="2231.40" y="1470.00" font-size="35.60" text-anchor="start">Ni 3d</text>
<text x="1130.40" y="1688.90" font-size="67.30" text-anchor="start" textLength="299.31" lengthAdjust="spacing">Energy(eV)</text>
<text transform="translate(84.70,1216.00) rotate(-90)" x="0" y="0" font-size="63.80" textLength="781.34" lengthAdjust="spacing">Density of states(electrons/eV)</text>
</svg>
</body></html>
